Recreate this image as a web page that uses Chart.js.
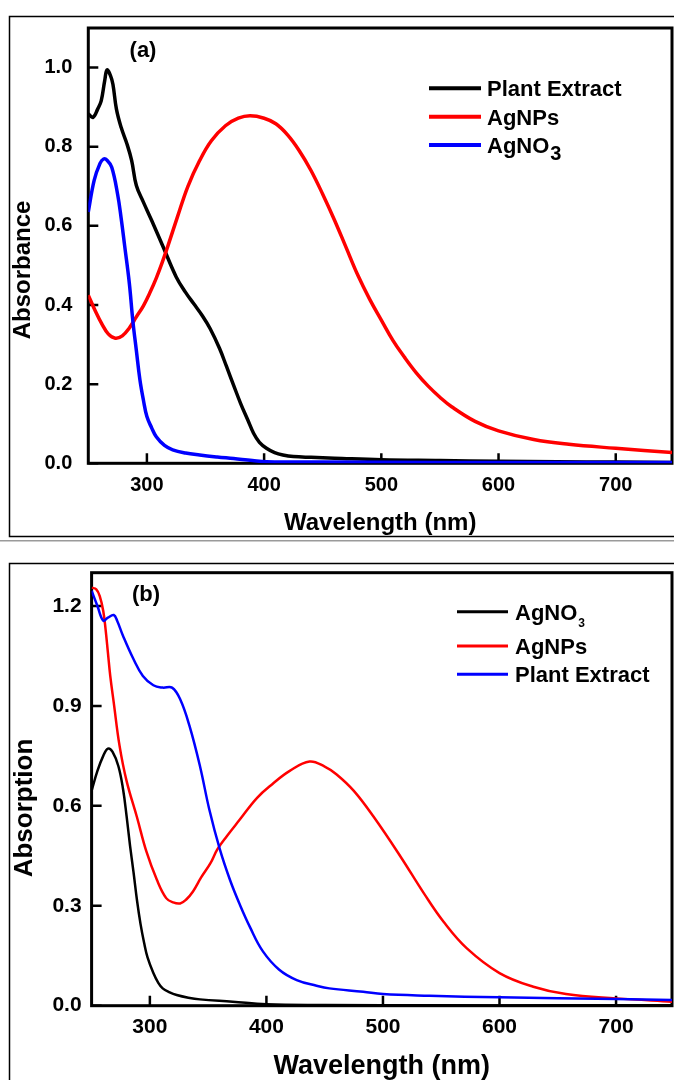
<!DOCTYPE html>
<html>
<head>
<meta charset="utf-8">
<script src="https://cdn.jsdelivr.net/npm/chart.js@4.4.0/dist/chart.umd.min.js"></script>
<style>
  body { margin: 0; background: #fff; }
  .panel { position: absolute; left: 0; width: 674px; height: 540px; }
</style>
</head>
<body>
<div class="panel" style="top:0"><canvas id="uvA" width="674" height="540"></canvas></div>
<div class="panel" style="top:540px"><canvas id="uvB" width="674" height="540"></canvas></div>
<script>
// ---- panel (a) spectra ----
const extractWlA  = [250, 254, 258, 261, 264, 266, 269, 271, 274, 278, 283, 287, 291, 297, 304, 314, 325, 333, 340, 347, 354, 362, 368, 374, 380, 386, 391, 396, 402, 409, 416, 425, 440, 460, 500, 550, 600, 650, 700, 748];
const extractAbsA = [0.883, 0.874, 0.895, 0.916, 0.967, 0.994, 0.979, 0.958, 0.895, 0.849, 0.807, 0.765, 0.702, 0.66, 0.614, 0.546, 0.471, 0.432, 0.403, 0.374, 0.34, 0.29, 0.244, 0.197, 0.151, 0.11, 0.076, 0.053, 0.038, 0.027, 0.021, 0.017, 0.015, 0.013, 0.009, 0.007, 0.005, 0.004, 0.003, 0.002];

const agnpWlA  = [250, 256, 262, 267, 273, 279, 285, 291, 297, 303, 308, 313, 318, 326, 335, 345, 355, 367, 378, 388, 400, 410, 420, 430, 440, 450, 460, 470, 480, 490, 500, 510, 520, 530, 540, 550, 560, 580, 600, 630, 660, 700, 748];
const agnpAbsA = [0.425, 0.385, 0.35, 0.327, 0.316, 0.322, 0.342, 0.37, 0.398, 0.434, 0.468, 0.507, 0.55, 0.622, 0.70, 0.765, 0.815, 0.853, 0.872, 0.878, 0.872, 0.858, 0.83, 0.79, 0.74, 0.68, 0.615, 0.545, 0.475, 0.415, 0.362, 0.31, 0.267, 0.228, 0.195, 0.167, 0.143, 0.106, 0.082, 0.06, 0.048, 0.038, 0.027];

const nitrateWlA  = [250, 255, 260, 263, 266, 270, 275, 278, 281, 285, 288, 291, 294, 297, 300, 304, 308, 315, 322, 333, 345, 360, 374, 390, 402, 450, 550, 650, 748];
const nitrateAbsA = [0.635, 0.715, 0.758, 0.769, 0.766, 0.748, 0.68, 0.62, 0.55, 0.455, 0.36, 0.285, 0.212, 0.16, 0.118, 0.09, 0.067, 0.045, 0.034, 0.026, 0.021, 0.016, 0.012, 0.007, 0.004, 0.003, 0.002, 0.002, 0.002];

// ---- panel (b) spectra ----
const nitrateWlB  = [250, 255, 260, 264, 268, 273, 277, 280, 283, 286, 289, 292, 295, 298, 303, 307, 311, 317, 323, 333, 343, 371, 400, 450, 550, 650, 748];
const nitrateAbsB = [0.645, 0.705, 0.75, 0.772, 0.762, 0.719, 0.65, 0.57, 0.48, 0.4, 0.315, 0.245, 0.19, 0.145, 0.098, 0.07, 0.052, 0.04, 0.032, 0.024, 0.019, 0.012, 0.004, 0.002, 0.001, 0.001, 0.001];

const agnpWlB  = [250, 254, 257, 260, 262, 264, 266, 269, 274, 280, 289, 297, 306, 314, 320, 326, 331, 337, 344, 352, 358, 366, 377, 392, 405, 420, 437, 450, 460, 475, 492, 515, 535, 552, 572, 600, 629, 657, 700, 748];
const agnpAbsB = [1.255, 1.25, 1.23, 1.185, 1.13, 1.06, 0.99, 0.91, 0.78, 0.675, 0.565, 0.463, 0.378, 0.323, 0.31, 0.307, 0.318, 0.343, 0.385, 0.428, 0.47, 0.509, 0.558, 0.624, 0.665, 0.705, 0.733, 0.718, 0.695, 0.645, 0.567, 0.448, 0.338, 0.252, 0.172, 0.098, 0.057, 0.035, 0.022, 0.012];

const extractWlB  = [250, 255, 260, 264, 269, 272, 277, 286, 294, 303, 311, 319, 326, 334, 343, 351, 360, 369, 377, 386, 397, 411, 426, 443, 454, 483, 500, 540, 600, 700, 748];
const extractAbsB = [1.246, 1.2, 1.156, 1.165, 1.173, 1.155, 1.11, 1.04, 0.99, 0.962, 0.955, 0.955, 0.92, 0.84, 0.719, 0.589, 0.47, 0.375, 0.305, 0.235, 0.163, 0.108, 0.077, 0.06, 0.052, 0.042, 0.035, 0.03, 0.025, 0.02, 0.017];

// ---- axes ----
const xTicks  = [300, 400, 500, 600, 700];
const yTicksA = [0, 0.2, 0.4, 0.6, 0.8, 1.0];
const yTicksB = [0, 0.3, 0.6, 0.9, 1.2];

const FONT = '"Liberation Sans", Arial, sans-serif';

const series = (label, color, wl, abs, width, order) => ({
  label,
  borderColor: color,
  borderWidth: width,
  order,
  data: wl.map((w, i) => ({x: w, y: abs[i]})),
  pointRadius: 0,
  fill: false,
  tension: 0.4
})

// outer box, plot frame with inward ticks, y title, legend and panel tag
const panelDeco = {
  id: 'panelDeco',
  beforeDraw(chart, args, o) {
    const c = chart.ctx
    c.save()
    c.fillStyle = '#fff'
    c.fillRect(0, 0, chart.width, chart.height)
    if (o.sepLine) {
      c.strokeStyle = '#9a9a9a'
      c.lineWidth = 1.5
      c.beginPath(); c.moveTo(0, 0.8); c.lineTo(chart.width, 0.8); c.stroke()
    }
    c.strokeStyle = '#000'
    c.lineWidth = 1.5
    c.strokeRect(9.5, o.boxY, 700, o.boxH)
    c.restore()
  },
  beforeDatasetsDraw(chart, args, o) {
    const c = chart.ctx
    const a = chart.chartArea
    const {x, y} = chart.scales
    c.save()
    c.strokeStyle = '#000'
    c.lineWidth = 3
    c.strokeRect(a.left, a.top, a.right - a.left, a.bottom - a.top)
    c.lineWidth = 2.5
    c.beginPath()
    x.ticks.forEach(t => {
      const px = x.getPixelForValue(t.value)
      c.moveTo(px, a.bottom); c.lineTo(px, a.bottom - o.tickLen)
    })
    y.ticks.forEach(t => {
      const py = y.getPixelForValue(t.value)
      c.moveTo(a.left, py); c.lineTo(a.left + o.tickLen, py)
    })
    c.stroke()

    // y axis title
    c.fillStyle = '#000'
    c.font = 'bold ' + o.yTitleSize + 'px ' + FONT
    c.textAlign = 'center'
    c.textBaseline = 'middle'
    c.translate(o.yTitleX, o.yTitleY)
    c.rotate(-Math.PI / 2)
    c.fillText(o.yTitle, 0, 0)
    c.restore()
  },
  afterDraw(chart, args, o) {
    const c = chart.ctx
    const L = o.legend
    c.save()
    chart.data.datasets.forEach((ds, i) => {
      const ly = L.ys[i]
      c.strokeStyle = ds.borderColor
      c.lineWidth = L.lw
      c.beginPath(); c.moveTo(L.x0, ly); c.lineTo(L.x1, ly); c.stroke()
      const m = ds.label.match(/^(.*?[A-Za-z])(\d+)$/)
      const main = m ? m[1] : ds.label
      c.fillStyle = '#000'
      c.textAlign = 'left'
      c.textBaseline = 'alphabetic'
      c.font = 'bold 22px ' + FONT
      c.fillText(main, L.textX, ly + 8)
      if (m) {
        const w = c.measureText(main).width
        c.font = 'bold ' + L.subSize + 'px ' + FONT
        c.fillText(m[2], L.textX + w + 1, ly + 8 + L.subDy)
      }
    })
    c.font = 'bold 22px ' + FONT
    c.textAlign = 'center'
    c.textBaseline = 'middle'
    c.fillText(o.tag.text, o.tag.x, o.tag.y)
    c.restore()
  }
}

const makeChart = (id, datasets, cfg) => new Chart(document.getElementById(id), {
  type: 'line',
  data: {datasets},
  options: {
    responsive: false,
    animation: false,
    devicePixelRatio: 1,
    events: [],
    layout: {padding: {top: cfg.top, right: 2, left: 0, bottom: 0}},
    plugins: {
      legend: {display: false},
      tooltip: {enabled: false},
      panelDeco: cfg
    },
    scales: {
      x: {
        type: 'linear',
        min: 250,
        max: 748,
        grid: {display: false, drawTicks: false},
        border: {display: false},
        afterBuildTicks: s => { s.ticks = xTicks.map(v => ({value: v})) },
        afterFit: s => { s.height = cfg.xAxisH },
        ticks: {
          color: '#000', padding: cfg.xTickPad, maxRotation: 0, autoSkip: false,
          font: {family: FONT, size: cfg.tickSize, weight: 'bold'}
        },
        title: {
          display: true, text: 'Wavelength (nm)', color: '#000',
          padding: {top: 0, bottom: cfg.xTitlePad},
          font: {family: FONT, size: cfg.xTitleSize, weight: 'bold', lineHeight: 1}
        }
      },
      y: {
        min: 0,
        max: cfg.yMax,
        grid: {display: false, drawTicks: false},
        border: {display: false},
        afterBuildTicks: s => { s.ticks = cfg.yTicks.map(v => ({value: v})) },
        afterFit: s => { s.width = cfg.yAxisW },
        ticks: {
          color: '#000', padding: cfg.yTickPad, autoSkip: false,
          callback: v => v.toFixed(1),
          font: {family: FONT, size: cfg.tickSize, weight: 'bold'}
        }
      }
    }
  },
  plugins: [panelDeco]
})

makeChart('uvA', [
  series('Plant Extract', '#000000', extractWlA, extractAbsA, 3.5, 2),
  series('AgNPs', '#ff0000', agnpWlA, agnpAbsA, 3.5, 1),
  series('AgNO3', '#0000ff', nitrateWlA, nitrateAbsA, 3.5, 0)
], {
  top: 28, yMax: 1.1, yTicks: yTicksA, yAxisW: 88.3, xAxisH: 76.7,
  tickSize: 20, xTickPad: 10, yTickPad: 16,
  xTitleSize: 24, xTitlePad: 4.6,
  yTitle: 'Absorbance', yTitleSize: 24, yTitleX: 23, yTitleY: 270,
  boxY: 16.5, boxH: 520, sepLine: false, tickLen: 10,
  legend: {x0: 429, x1: 481, textX: 487, ys: [88.3, 116.7, 145], lw: 4, subSize: 20, subDy: 7},
  tag: {text: '(a)', x: 143, y: 51}
})

makeChart('uvB', [
  series('AgNO3', '#000000', nitrateWlB, nitrateAbsB, 2.5, 2),
  series('AgNPs', '#ff0000', agnpWlB, agnpAbsB, 2.5, 1),
  series('Plant Extract', '#0000ff', extractWlB, extractAbsB, 2.5, 0)
], {
  top: 32.7, yMax: 1.3, yTicks: yTicksB, yAxisW: 91.6, xAxisH: 74.3,
  tickSize: 21, xTickPad: 9, yTickPad: 10,
  xTitleSize: 27, xTitlePad: 0,
  yTitle: 'Absorption', yTitleSize: 26, yTitleX: 25, yTitleY: 268,
  boxY: 23.5, boxH: 600, sepLine: true, tickLen: 10,
  legend: {x0: 457, x1: 508, textX: 515, ys: [71.7, 106, 134.3], lw: 3, subSize: 12, subDy: 7},
  tag: {text: '(b)', x: 146, y: 55}
})
</script>
</body>
</html>
